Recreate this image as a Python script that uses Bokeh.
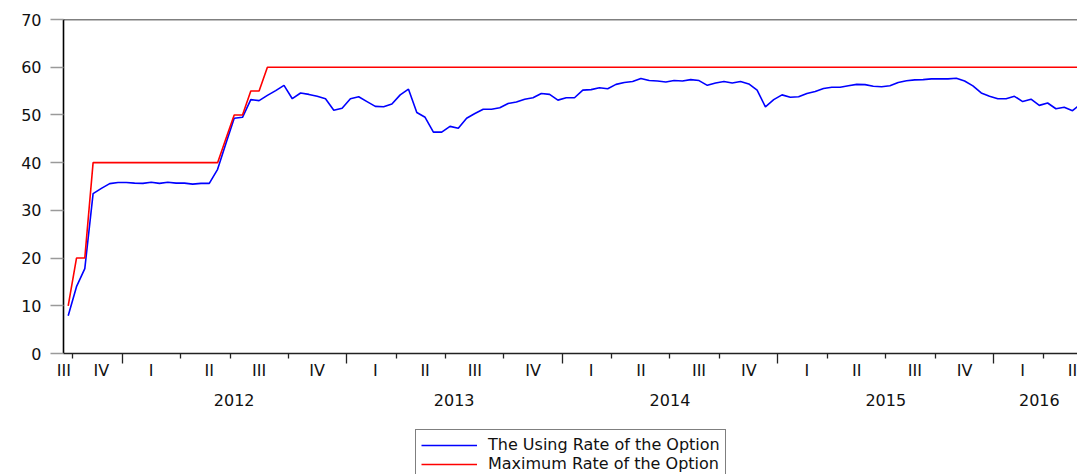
from bokeh.plotting import figure
from bokeh.layouts import column
from bokeh.models import (Range1d, LinearAxis, FixedTicker, Span, Legend,
                          LegendItem, ColumnDataSource)
from bokeh.embed import file_html
from bokeh.resources import INLINE

# ---------------- data (bi-weekly observations) ----------------
using_rate = [
    7.9, 14.0, 17.8, 33.5, 34.6, 35.6, 35.85, 35.85, 35.7, 35.65,
    35.9, 35.65, 35.9, 35.7, 35.7, 35.5, 35.65, 35.65, 38.6, 44.0,
    49.3, 49.5, 53.2, 53.0, 54.1, 55.1, 56.2, 53.4, 54.6, 54.3,
    53.9, 53.4, 51.0, 51.4, 53.4, 53.8, 52.8, 51.8, 51.7, 52.3,
    54.2, 55.4, 50.5, 49.5, 46.4, 46.4, 47.6, 47.2, 49.3, 50.3,
    51.2, 51.2, 51.5, 52.4, 52.7, 53.3, 53.6, 54.5, 54.3, 53.1,
    53.6, 53.6, 55.2, 55.3, 55.7, 55.5, 56.4, 56.8, 57.0, 57.65,
    57.2, 57.1, 56.9, 57.2, 57.1, 57.4, 57.2, 56.2, 56.7, 57.0,
    56.7, 57.0, 56.5, 55.2, 51.7, 53.2, 54.2, 53.7, 53.8, 54.5,
    54.9, 55.55, 55.8, 55.8, 56.1, 56.4, 56.35, 56.0, 55.9, 56.1,
    56.8, 57.15, 57.35, 57.4, 57.55, 57.55, 57.55, 57.7, 57.1, 56.1,
    54.6, 53.9, 53.4, 53.4, 53.9, 52.8, 53.3, 52.0, 52.5, 51.3,
    51.6, 50.9, 52.3,
]
max_rate = [10, 20, 20] + [40] * 16 + [45, 50, 50, 55, 55] + [60] * 99

quarter_labels = ["III", "IV",
                  "I", "II", "III", "IV",
                  "I", "II", "III", "IV",
                  "I", "II", "III", "IV",
                  "I", "II", "III", "IV",
                  "I", "II"]
quarter_years = [2011, 2011,
                 2012, 2012, 2012, 2012,
                 2013, 2013, 2013, 2013,
                 2014, 2014, 2014, 2014,
                 2015, 2015, 2015, 2015,
                 2016, 2016]
quarter_obs = [1, 6,
               7, 6, 7, 7,
               6, 6, 7, 7,
               6, 7, 6, 7,
               6, 7, 6, 7,
               6, 5]
year_labels = ["2012", "2013", "2014", "2015", "2016"]
series_names = ["The Using Rate of the Option", "Maximum Rate of the Option"]

obs = list(range(len(using_rate)))

# ---------------- axis bookkeeping ----------------
X_LO, X_HI = -0.566, 121.6
q_start = []
s = -0.5
for n in quarter_obs:
    q_start.append(s)
    s += n
q_end = [a + n for a, n in zip(q_start, quarter_obs)]
year_bounds = [q_start[i] for i in range(1, len(q_start)) if quarter_labels[i] == "I"]
minor_bounds = [q_start[i] for i in range(1, len(q_start)) if quarter_labels[i] != "I"]
q_pos = []
for i in range(len(quarter_labels)):
    if i == 0:
        q_pos.append(round(max(q_end[0] - 3.5, X_LO + 0.05), 3))
    else:
        q_pos.append(round(q_start[i] + 3.5, 3))
year_pos = []
for y in year_labels:
    idx = [i for i, qy in enumerate(quarter_years) if str(qy) == y]
    year_pos.append(round((q_start[idx[0]] + q_end[idx[-1]]) / 2, 3))

FONT = "DejaVu Sans"
TXT = "#111111"

p = figure(width=1077, height=420,
           x_range=Range1d(X_LO, X_HI), y_range=Range1d(0, 70),
           x_axis_type=None, y_axis_type=None,
           toolbar_location=None, output_backend="svg",
           min_border_left=63, min_border_right=0,
           min_border_top=19, min_border_bottom=67,
           outline_line_color=None,
           background_fill_color="white", border_fill_color="white")

# y axis
yaxis = LinearAxis(ticker=FixedTicker(ticks=list(range(0, 71, 10))),
                   major_tick_out=13, major_tick_in=0,
                   minor_tick_out=0, minor_tick_in=0,
                   major_tick_line_color="#9a9a9a", major_tick_line_width=1.5,
                   axis_line_color="black", axis_line_width=1.6,
                   major_label_standoff=9,
                   major_label_text_font=FONT,
                   major_label_text_font_size="16px",
                   major_label_text_color=TXT)
p.add_layout(yaxis, "left")

# x axis: tick marks only (year boundaries long, quarter boundaries short)
xaxis_ticks = LinearAxis(ticker=FixedTicker(ticks=year_bounds, minor_ticks=minor_bounds),
                         major_label_overrides={b: "" for b in year_bounds},
                         major_tick_out=10, major_tick_in=0,
                         minor_tick_out=5, minor_tick_in=0,
                         major_tick_line_color="#222222", minor_tick_line_color="#222222",
                         major_tick_line_width=1.3, minor_tick_line_width=1.3,
                         axis_line_color="#222222", axis_line_width=1.4,
                         major_label_standoff=0,
                         major_label_text_font=FONT,
                         major_label_text_font_size="16px")
p.add_layout(xaxis_ticks, "below")

# x axis: quarter labels
xaxis_q = LinearAxis(ticker=FixedTicker(ticks=q_pos),
                     major_label_overrides={q: lab for q, lab in zip(q_pos, quarter_labels)},
                     major_tick_out=0, major_tick_in=0,
                     minor_tick_out=0, minor_tick_in=0,
                     axis_line_color=None,
                     major_label_standoff=-3,
                     major_label_text_font=FONT,
                     major_label_text_font_size="16px",
                     major_label_text_color=TXT)
p.add_layout(xaxis_q, "below")

# x axis: year labels
xaxis_y = LinearAxis(ticker=FixedTicker(ticks=year_pos),
                     major_label_overrides={yp: lab for yp, lab in zip(year_pos, year_labels)},
                     major_tick_out=0, major_tick_in=0,
                     minor_tick_out=0, minor_tick_in=0,
                     axis_line_color=None,
                     major_label_standoff=11,
                     major_label_text_font=FONT,
                     major_label_text_font_size="16px",
                     major_label_text_color=TXT)
p.add_layout(xaxis_y, "below")

# top frame line
p.add_layout(Span(location=70, dimension="width", line_color="black", line_width=1.6))

src = ColumnDataSource(dict(obs=obs, using=using_rate, maxr=max_rate))
p.line("obs", "using", source=src, line_color="#0000ff", line_width=1.6)
p.line("obs", "maxr", source=src, line_color="#ff0000", line_width=1.6)

# ---------------- legend strip below the chart ----------------
pl = figure(width=1077, height=54,
            x_range=Range1d(X_LO, X_HI), y_range=Range1d(-30, -20),
            x_axis_type=None, y_axis_type=None,
            toolbar_location=None, output_backend="svg",
            min_border_left=0, min_border_right=0,
            min_border_top=0, min_border_bottom=0,
            outline_line_color=None,
            background_fill_color="white", border_fill_color="white")
lb = pl.line("obs", "using", source=src, line_color="#0000ff", line_width=1.6)
lr = pl.line("obs", "maxr", source=src, line_color="#ff0000", line_width=1.6)
legend = Legend(items=[LegendItem(label=series_names[0], renderers=[lb]),
                       LegendItem(label=series_names[1], renderers=[lr])],
                location=(352, -5),
                label_text_font=FONT, label_text_font_size="16px",
                label_text_color=TXT,
                glyph_width=56, glyph_height=18, label_height=18,
                label_standoff=11, spacing=0, padding=5, margin=0,
                border_line_color="black", border_line_width=1,
                background_fill_color="white", background_fill_alpha=1.0)
pl.add_layout(legend)

layout = column(p, pl, spacing=0)
open("out.html", "w").write(file_html(layout, INLINE))
